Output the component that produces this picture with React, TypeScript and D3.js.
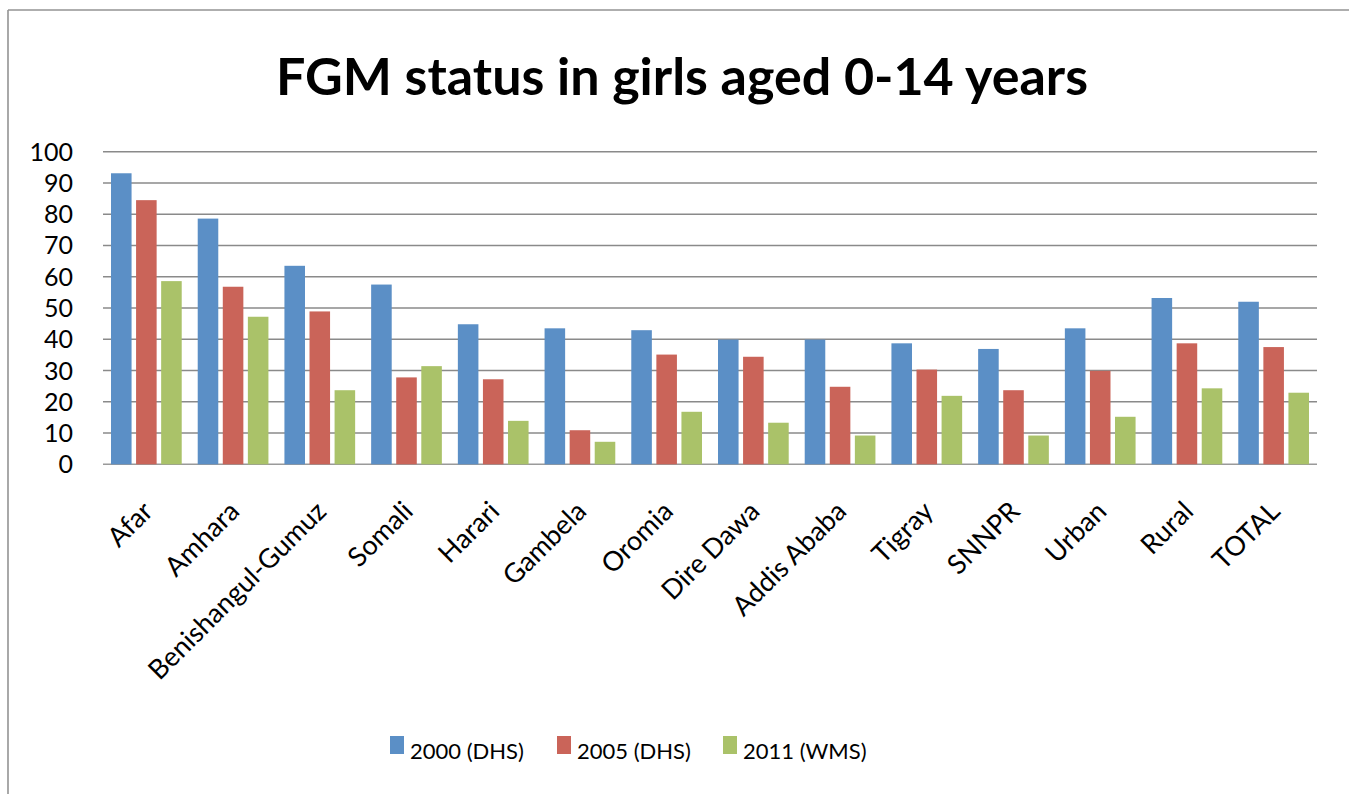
import React from 'react';
import * as d3 from 'd3';

const categories = [
  'Afar', 'Amhara', 'Benishangul-Gumuz', 'Somali', 'Harari', 'Gambela', 'Oromia',
  'Dire Dawa', 'Addis Ababa', 'Tigray', 'SNNPR', 'Urban', 'Rural', 'TOTAL',
];
const seriesNames = ['2000 (DHS)', '2005 (DHS)', '2011 (WMS)'];
const dhs2000 = [93.1, 78.6, 63.5, 57.5, 44.8, 43.5, 42.9, 39.9, 39.9, 38.7, 36.9, 43.5, 53.2, 52.0];
const dhs2005 = [84.5, 56.8, 48.9, 27.8, 27.2, 10.9, 35.1, 34.4, 24.8, 30.3, 23.7, 29.9, 38.7, 37.5];
const wms2011 = [58.6, 47.2, 23.7, 31.4, 13.9, 7.2, 16.8, 13.3, 9.2, 21.9, 9.2, 15.2, 24.3, 22.9];
const yTicks = [0, 10, 20, 30, 40, 50, 60, 70, 80, 90, 100];
const colors = ['#5B8FC6', '#CA6459', '#AAC269'];

const W = 1349;
const H = 794;
const FONT = 'Lato, "Open Sans", sans-serif';

export default function App() {
  const series = [dhs2000, dhs2005, wms2011];
  const x = d3.scaleBand<string>().domain(categories).range([103, 1317]).padding(0);
  const bw = x.bandwidth();
  // three bars per group, with a thin white gap between them
  const x1 = d3.scaleBand<number>().domain([0, 1, 2]).range([8, bw - 8]).paddingInner(0.18);
  const y = d3.scaleLinear().domain([0, 100]).range([464.3, 151.7]);

  const legendX = [390, 557, 723];

  return (
    <div style={{ position: 'absolute', left: 0, top: 0 }}>
      <svg width={W} height={H} style={{ display: 'block', background: '#fff' }} fontFamily={FONT}>
        {/* frame */}
        <line x1={8} x2={W} y1={10} y2={10} stroke="#939393" strokeWidth={1.6} />
        <line x1={8} x2={8} y1={10} y2={H} stroke="#939393" strokeWidth={1.6} />

        <text x={682} y={95} textAnchor="middle" fontSize={52} fontWeight={700} fill="#000">
          FGM status in girls aged 0-14 years
        </text>

        {yTicks.map(t => (
          <g key={t}>
            <line x1={x.range()[0]} x2={x.range()[1]} y1={y(t)} y2={y(t)}
              stroke={t === 0 ? '#9a9a9a' : '#8a8a8a'} strokeWidth={1.6} />
            <text x={73} y={y(t) + 9} textAnchor="end" fontSize={25} fill="#000">{t}</text>
          </g>
        ))}

        {categories.map((c, i) => (
          <g key={c} transform={`translate(${x(c)},0)`}>
            {series.map((s, j) => (
              <rect key={j} x={x1(j)} y={y(s[i])} width={x1.bandwidth()}
                height={y(0) - y(s[i])} fill={colors[j]} />
            ))}
          </g>
        ))}

        {categories.map(c => {
          const cx = (x(c) as number) + bw / 2 + 8;
          const cy = 513;
          return (
            <text key={c} x={cx} y={cy} textAnchor="end" fontSize={27} fill="#000"
              transform={`rotate(-45 ${cx} ${cy})`}>{c}</text>
          );
        })}

        {seriesNames.map((n, j) => (
          <g key={n}>
            <rect x={legendX[j]} y={736} width={14} height={18} fill={colors[j]} />
            <text x={legendX[j] + 20} y={759} fontSize={22} fill="#000">{n}</text>
          </g>
        ))}
      </svg>
    </div>
  );
}
